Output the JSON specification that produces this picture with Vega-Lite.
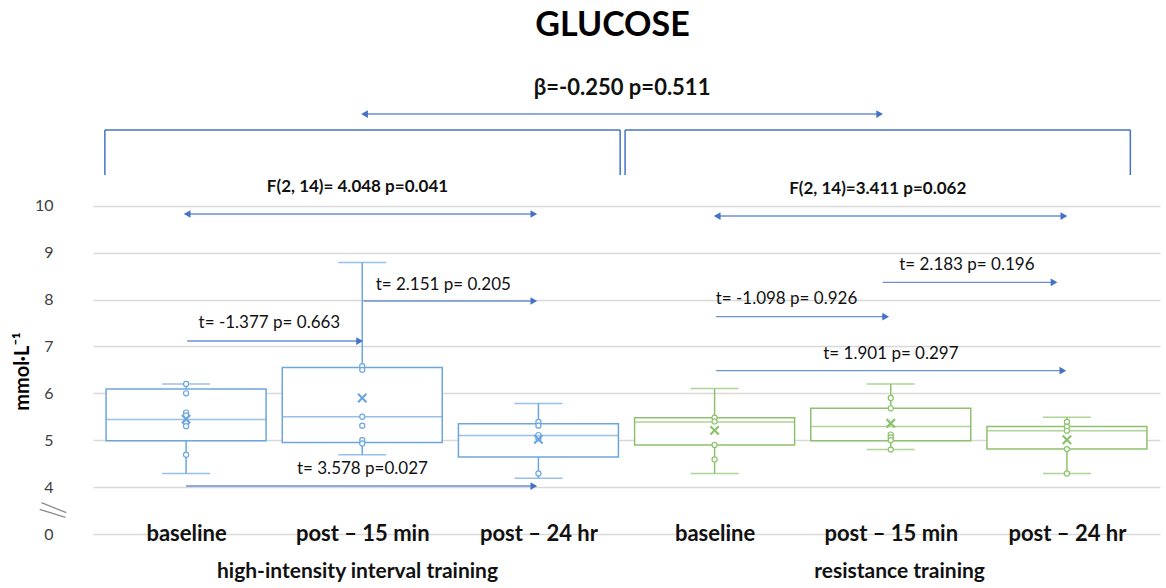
{
  "$schema": "https://vega.github.io/schema/vega-lite/v6.json",
  "width": 1067,
  "height": 469,
  "autosize": {"type": "none"},
  "padding": {"left": 93, "top": 65, "right": 6, "bottom": 54},
  "background": "white",
  "title": {"text": "GLUCOSE", "font": "Lato", "fontSize": 34, "fontWeight": "bold", "color": "#000000", "offset": 22, "dx": -14, "anchor": "middle", "frame": "group"},
  "config": {"view": {"stroke": null}, "font": "Lato"},
  "datasets": {
    "boxes": [
      {"group": "HIIT", "time": "baseline", "pos": 1, "lo": 4.29, "q1": 4.99, "med": 5.44, "q3": 6.09, "hi": 6.20, "mean": 5.45},
      {"group": "HIIT", "time": "post – 15 min", "pos": 2, "lo": 4.69, "q1": 4.95, "med": 5.50, "q3": 6.55, "hi": 8.79, "mean": 5.90},
      {"group": "HIIT", "time": "post – 24 hr", "pos": 3, "lo": 4.19, "q1": 4.64, "med": 5.10, "q3": 5.35, "hi": 5.78, "mean": 5.02},
      {"group": "RT", "time": "baseline", "pos": 4, "lo": 4.29, "q1": 4.90, "med": 5.39, "q3": 5.48, "hi": 6.10, "mean": 5.21},
      {"group": "RT", "time": "post – 15 min", "pos": 5, "lo": 4.80, "q1": 4.99, "med": 5.29, "q3": 5.68, "hi": 6.20, "mean": 5.36},
      {"group": "RT", "time": "post – 24 hr", "pos": 6, "lo": 4.29, "q1": 4.81, "med": 5.20, "q3": 5.29, "hi": 5.49, "mean": 5.01}
    ],
    "pts": [
      {"group": "HIIT", "pos": 1, "v": 6.20}, {"group": "HIIT", "pos": 1, "v": 6.00}, {"group": "HIIT", "pos": 1, "v": 5.59}, {"group": "HIIT", "pos": 1, "v": 5.53}, {"group": "HIIT", "pos": 1, "v": 5.37}, {"group": "HIIT", "pos": 1, "v": 5.30}, {"group": "HIIT", "pos": 1, "v": 4.69},
      {"group": "HIIT", "pos": 2, "v": 6.58}, {"group": "HIIT", "pos": 2, "v": 6.50}, {"group": "HIIT", "pos": 2, "v": 5.50}, {"group": "HIIT", "pos": 2, "v": 5.31}, {"group": "HIIT", "pos": 2, "v": 5.00}, {"group": "HIIT", "pos": 2, "v": 4.93},
      {"group": "HIIT", "pos": 3, "v": 5.39}, {"group": "HIIT", "pos": 3, "v": 5.31}, {"group": "HIIT", "pos": 3, "v": 5.11}, {"group": "HIIT", "pos": 3, "v": 5.04}, {"group": "HIIT", "pos": 3, "v": 4.29},
      {"group": "RT", "pos": 4, "v": 5.48}, {"group": "RT", "pos": 4, "v": 5.40}, {"group": "RT", "pos": 4, "v": 4.90}, {"group": "RT", "pos": 4, "v": 4.59},
      {"group": "RT", "pos": 5, "v": 5.90}, {"group": "RT", "pos": 5, "v": 5.68}, {"group": "RT", "pos": 5, "v": 5.12}, {"group": "RT", "pos": 5, "v": 5.06}, {"group": "RT", "pos": 5, "v": 5.00}, {"group": "RT", "pos": 5, "v": 4.80},
      {"group": "RT", "pos": 6, "v": 5.39}, {"group": "RT", "pos": 6, "v": 5.29}, {"group": "RT", "pos": 6, "v": 5.20}, {"group": "RT", "pos": 6, "v": 4.81}, {"group": "RT", "pos": 6, "v": 4.29}
    ],
    "brackets": [
      {"x": 0.539, "x2": 3.464, "y": 11.614, "y2": 11.614},
      {"x": 0.539, "x2": 0.539, "y": 11.614, "y2": 10.655},
      {"x": 3.464, "x2": 3.464, "y": 11.614, "y2": 10.655},
      {"x": 3.492, "x2": 6.360, "y": 11.614, "y2": 11.614},
      {"x": 3.492, "x2": 3.492, "y": 11.614, "y2": 10.655},
      {"x": 6.360, "x2": 6.360, "y": 11.614, "y2": 10.655}
    ],
    "arrows": [
      {"x1": 2.013, "x2": 4.937, "y": 11.955, "dbl": true},
      {"x1": 1.006, "x2": 2.974, "y": 9.823, "dbl": true},
      {"x1": 4.015, "x2": 5.983, "y": 9.78, "dbl": true},
      {"x1": 2.007, "x2": 2.974, "y": 7.968, "dbl": false},
      {"x1": 1.006, "x2": 1.985, "y": 7.115, "dbl": false},
      {"x1": 1.0, "x2": 2.974, "y": 4.023, "dbl": false},
      {"x1": 4.954, "x2": 5.927, "y": 8.367, "dbl": false},
      {"x1": 4.009, "x2": 4.971, "y": 7.633, "dbl": false},
      {"x1": 4.009, "x2": 5.977, "y": 6.482, "dbl": false}
    ],
    "texts": [
      {"kind": "beta", "label": "β=-0.250 p=0.511", "x": 3.475, "y": 12.51},
      {"kind": "F", "label": "F(2, 14)= 4.048 p=0.041", "x": 1.973, "y": 10.40},
      {"kind": "F", "label": "F(2, 14)=3.411 p=0.062", "x": 4.926, "y": 10.356},
      {"kind": "t", "label": "t= 2.151 p= 0.205", "x": 2.460, "y": 8.309},
      {"kind": "t", "label": "t= -1.377 p= 0.663", "x": 1.473, "y": 7.499},
      {"kind": "t", "label": "t= 3.578 p=0.027", "x": 2.001, "y": 4.386},
      {"kind": "t", "label": "t= 2.183 p= 0.196", "x": 5.432, "y": 8.736},
      {"kind": "t", "label": "t= -1.098 p= 0.926", "x": 4.408, "y": 8.011},
      {"kind": "t", "label": "t= 1.901 p= 0.297", "x": 5.001, "y": 6.838}
    ],
    "groups": [
      {"label": "high-intensity interval training", "x": 1.973, "y": 2.19},
      {"label": "resistance training", "x": 5.05, "y": 2.19}
    ],
    "breakmark": [
      {"x": 0.179, "x2": 0.320, "y": 3.667, "y2": 3.454},
      {"x": 0.169, "x2": 0.315, "y": 3.527, "y2": 3.356}
    ]
  },
  "layer": [
    {
      "data": {"name": "boxes"},
      "mark": {"type": "rule", "strokeWidth": 1.5},
      "encoding": {
        "x": {"field": "pos", "type": "quantitative", "scale": {"domain": [0.5, 6.5], "nice": false, "zero": false},
          "axis": {"values": [1, 2, 3, 4, 5, 6], "labelExpr": "['baseline','post – 15 min','post – 24 hr','baseline','post – 15 min','post – 24 hr'][datum.value-1]", "grid": false, "domain": false, "ticks": false, "tickSize": 0, "labelPadding": -1, "labelBaseline": "middle", "labelFont": "Lato", "labelFontSize": 22, "labelFontWeight": "bold", "labelColor": "#111111", "labelOverlap": false, "labelFlush": false, "labelBound": false, "title": null}},
        "y": {"field": "lo", "type": "quantitative", "scale": {"domain": [3, 13], "nice": false, "zero": false},
          "axis": {"values": [3, 4, 5, 6, 7, 8, 9, 10], "labelExpr": "datum.value == 3 ? '0' : datum.label", "grid": true, "gridColor": "#D9D9D9", "gridWidth": 1.3, "domain": false, "ticks": false, "tickSize": 0, "labelPadding": 40, "labelFont": "Lato", "labelFontSize": 16, "labelColor": "#404040", "title": "mmol·L⁻¹", "titleFont": "Lato", "titleFontSize": 20, "titleFontWeight": "bold", "titleColor": "#000000", "titleX": -71, "titleY": 306, "titleAngle": 270, "titleBaseline": "middle", "titleAlign": "center"}},
        "y2": {"field": "hi"},
        "color": {"field": "group", "type": "nominal", "scale": {"domain": ["HIIT", "RT"], "range": ["#6CA6E0", "#8CC26C"]}, "legend": null}
      }
    },
    {
      "data": {"name": "boxes"},
      "transform": [{"fold": ["lo", "hi"], "as": ["end", "val"]}],
      "mark": {"type": "tick", "orient": "horizontal", "size": 48, "thickness": 1.5},
      "encoding": {
        "x": {"field": "pos", "type": "quantitative"},
        "y": {"field": "val", "type": "quantitative"},
        "color": {"field": "group", "type": "nominal", "legend": null}
      }
    },
    {
      "data": {"name": "boxes"},
      "mark": {"type": "bar", "orient": "vertical", "width": 160, "fill": "white", "strokeWidth": 1.5},
      "encoding": {
        "x": {"field": "pos", "type": "quantitative"},
        "y": {"field": "q1", "type": "quantitative"},
        "y2": {"field": "q3"},
        "stroke": {"field": "group", "type": "nominal", "scale": {"domain": ["HIIT", "RT"], "range": ["#6CA6E0", "#8CC26C"]}, "legend": null}
      }
    },
    {
      "data": {"name": "boxes"},
      "mark": {"type": "tick", "orient": "horizontal", "size": 160, "thickness": 1.5},
      "encoding": {
        "x": {"field": "pos", "type": "quantitative"},
        "y": {"field": "med", "type": "quantitative"},
        "color": {"field": "group", "type": "nominal", "legend": null}
      }
    },
    {
      "data": {"name": "pts"},
      "mark": {"type": "point", "shape": "circle", "size": 26, "fill": "white", "fillOpacity": 1, "strokeWidth": 1.2, "opacity": 1},
      "encoding": {
        "x": {"field": "pos", "type": "quantitative"},
        "y": {"field": "v", "type": "quantitative"},
        "stroke": {"field": "group", "type": "nominal", "legend": null}
      }
    },
    {
      "data": {"name": "boxes"},
      "mark": {"type": "point", "shape": "M-1,-1L1,1M-1,1L1,-1", "size": 70, "filled": false, "strokeWidth": 2.2, "opacity": 1},
      "encoding": {
        "x": {"field": "pos", "type": "quantitative"},
        "y": {"field": "mean", "type": "quantitative"},
        "stroke": {"field": "group", "type": "nominal", "legend": null}
      }
    },
    {
      "data": {"name": "brackets"},
      "mark": {"type": "rule", "color": "#4472C4", "strokeWidth": 1.5},
      "encoding": {
        "x": {"field": "x", "type": "quantitative"},
        "x2": {"field": "x2"},
        "y": {"field": "y", "type": "quantitative"},
        "y2": {"field": "y2"}
      }
    },
    {
      "data": {"name": "arrows"},
      "mark": {"type": "rule", "color": "#6D8FD6", "strokeWidth": 1.3},
      "encoding": {
        "x": {"field": "x1", "type": "quantitative"},
        "x2": {"field": "x2"},
        "y": {"field": "y", "type": "quantitative"}
      }
    },
    {
      "data": {"name": "arrows"},
      "mark": {"type": "point", "shape": "triangle-right", "size": 60, "filled": true, "color": "#4472C4", "opacity": 1, "dx": -4},
      "encoding": {
        "x": {"field": "x2", "type": "quantitative"},
        "y": {"field": "y", "type": "quantitative"}
      }
    },
    {
      "data": {"name": "arrows"},
      "transform": [{"filter": "datum.dbl"}],
      "mark": {"type": "point", "shape": "triangle-left", "size": 60, "filled": true, "color": "#4472C4", "opacity": 1, "dx": 4},
      "encoding": {
        "x": {"field": "x1", "type": "quantitative"},
        "y": {"field": "y", "type": "quantitative"}
      }
    },
    {
      "data": {"name": "texts"},
      "transform": [{"filter": "datum.kind == 'beta'"}],
      "mark": {"type": "text", "font": "Lato", "fontSize": 22, "fontWeight": "bold", "color": "#111111", "align": "center", "baseline": "middle"},
      "encoding": {
        "x": {"field": "x", "type": "quantitative"},
        "y": {"field": "y", "type": "quantitative"},
        "text": {"field": "label"}
      }
    },
    {
      "data": {"name": "texts"},
      "transform": [{"filter": "datum.kind == 'F'"}],
      "mark": {"type": "text", "font": "Lato", "fontSize": 17, "fontWeight": "bold", "color": "#111111", "align": "center", "baseline": "middle"},
      "encoding": {
        "x": {"field": "x", "type": "quantitative"},
        "y": {"field": "y", "type": "quantitative"},
        "text": {"field": "label"}
      }
    },
    {
      "data": {"name": "texts"},
      "transform": [{"filter": "datum.kind == 't'"}],
      "mark": {"type": "text", "font": "Lato", "fontSize": 17, "color": "#111111", "align": "center", "baseline": "middle"},
      "encoding": {
        "x": {"field": "x", "type": "quantitative"},
        "y": {"field": "y", "type": "quantitative"},
        "text": {"field": "label"}
      }
    },
    {
      "data": {"name": "groups"},
      "mark": {"type": "text", "font": "Lato", "fontSize": 21, "fontWeight": "bold", "color": "#111111", "align": "center", "baseline": "middle"},
      "encoding": {
        "x": {"field": "x", "type": "quantitative"},
        "y": {"field": "y", "type": "quantitative"},
        "text": {"field": "label"}
      }
    },
    {
      "data": {"name": "breakmark"},
      "mark": {"type": "rule", "color": "#8C8C8C", "strokeWidth": 1.3},
      "encoding": {
        "x": {"field": "x", "type": "quantitative"},
        "x2": {"field": "x2"},
        "y": {"field": "y", "type": "quantitative"},
        "y2": {"field": "y2"}
      }
    }
  ]
}
